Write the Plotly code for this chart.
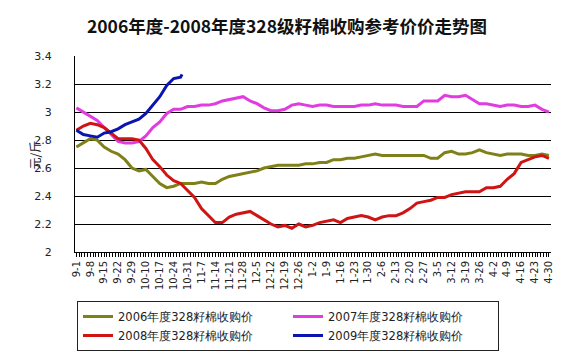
import plotly.graph_objects as go

# Tick labels (every 5th trading day)
tick_labels = ["9-1", "9-8", "9-15", "9-22", "9-29", "10-10", "10-17", "10-24", "10-31",
               "11-7", "11-14", "11-21", "11-28", "12-5", "12-12", "12-19", "12-26",
               "1-2", "1-9", "1-16", "1-23", "1-30", "2-6", "2-13", "2-20", "2-27",
               "3-5", "3-12", "3-19", "3-26", "4-2", "4-9", "4-16", "4-23", "4-30"]

# Sample positions, in units of tick-label steps (half steps)
x_pos = [i / 2 for i in range(69)]

s2006 = [2.75, 2.78, 2.81, 2.80, 2.75, 2.72, 2.70, 2.66, 2.60, 2.58, 2.59, 2.54,
         2.49, 2.46, 2.47, 2.49, 2.49, 2.49, 2.50, 2.49, 2.49, 2.52, 2.54, 2.55,
         2.56, 2.57, 2.58, 2.60, 2.61, 2.62, 2.62, 2.62, 2.62, 2.63, 2.63, 2.64,
         2.64, 2.66, 2.66, 2.67, 2.67, 2.68, 2.69, 2.70, 2.69, 2.69, 2.69, 2.69,
         2.69, 2.69, 2.69, 2.67, 2.67, 2.71, 2.72, 2.70, 2.70, 2.71, 2.73, 2.71,
         2.70, 2.69, 2.70, 2.70, 2.70, 2.69, 2.69, 2.70, 2.69]

s2007 = [3.03, 3.00, 2.97, 2.94, 2.89, 2.84, 2.79, 2.78, 2.78, 2.79, 2.83, 2.89,
         2.93, 2.99, 3.02, 3.02, 3.04, 3.04, 3.05, 3.05, 3.06, 3.08, 3.09, 3.10,
         3.11, 3.08, 3.06, 3.03, 3.01, 3.01, 3.02, 3.05, 3.06, 3.05, 3.04, 3.05,
         3.05, 3.04, 3.04, 3.04, 3.04, 3.05, 3.05, 3.06, 3.05, 3.05, 3.05, 3.04,
         3.04, 3.04, 3.08, 3.08, 3.08, 3.12, 3.11, 3.11, 3.12, 3.09, 3.06, 3.06,
         3.05, 3.04, 3.05, 3.05, 3.04, 3.04, 3.05, 3.02, 3.00]

s2008 = [2.87, 2.90, 2.92, 2.91, 2.89, 2.85, 2.81, 2.81, 2.81, 2.80, 2.74, 2.66,
         2.61, 2.55, 2.51, 2.49, 2.44, 2.39, 2.31, 2.26, 2.21, 2.21, 2.25, 2.27,
         2.28, 2.29, 2.26, 2.23, 2.20, 2.18, 2.19, 2.17, 2.20, 2.18, 2.19, 2.21,
         2.22, 2.23, 2.21, 2.24, 2.25, 2.26, 2.25, 2.23, 2.25, 2.26, 2.26, 2.28,
         2.31, 2.35, 2.36, 2.37, 2.39, 2.39, 2.41, 2.42, 2.43, 2.43, 2.43, 2.46,
         2.46, 2.47, 2.52, 2.56, 2.64, 2.66, 2.68, 2.69, 2.67]

s2009 = [2.87, 2.84, 2.83, 2.82, 2.85, 2.86, 2.88, 2.91, 2.93, 2.95, 2.99, 3.05,
         3.11, 3.19, 3.24, 3.25, 3.27]
x2009 = x_pos[:16] + [7.6]

series = [
    ("2006年度328籽棉收购价", x_pos, s2006, "#808018"),
    ("2007年度328籽棉收购价", x_pos, s2007, "#E03CE0"),
    ("2008年度328籽棉收购价", x_pos, s2008, "#D01414"),
    ("2009年度328籽棉收购价", x2009, s2009, "#0A14B0"),
]

# The page body has an 8px margin, so the figure is drawn 8px smaller.
W, H, OFF = 562, 350, 8
XRANGE = [-0.1, 34.15]

fig = go.Figure()
for name, xs, ys, color in series:
    fig.add_trace(go.Scatter(x=xs, y=ys, name=name, mode="lines",
                             line=dict(color=color, width=3)))

fig.update_layout(
    width=W, height=H,
    margin=dict(l=75 - OFF, r=19, t=56 - OFF, b=106, autoexpand=False),
    paper_bgcolor="white", plot_bgcolor="white",
    font=dict(family="DejaVu Sans", color="#222222"),
    title=dict(text="<b>2006年度-2008年度328级籽棉收购参考价价走势图</b>",
               font=dict(family="Noto Sans CJK SC", size=17.5, color="#111111"),
               x=(287 - OFF) / W, xref="container", xanchor="center",
               y=1 - (27 - OFF) / H, yref="container", yanchor="middle"),
    showlegend=True,
    legend=dict(orientation="h", x=(77 - OFF) / W, y=1 - (301 - OFF) / H,
                xref="container", yref="container",
                xanchor="left", yanchor="top",
                entrywidth=165, entrywidthmode="pixels",
                bordercolor="#222222", borderwidth=1,
                font=dict(family="DejaVu Sans", size=11.5, color="#222222"),
                tracegroupgap=0, itemwidth=30),
    # secondary x axis used only for the dense daily tick marks
    xaxis2=dict(overlaying="x", anchor="y", side="bottom", range=XRANGE,
                tickmode="linear", tick0=0, dtick=0.2, showticklabels=False,
                ticks="outside", ticklen=4, tickcolor="black", tickwidth=1,
                showgrid=False, zeroline=False, showline=False, automargin=False),
)

fig.layout.xaxis.update(
    range=XRANGE, automargin=False,
    tickmode="array", tickvals=list(range(len(tick_labels))), ticktext=tick_labels,
    tickangle=-90, tickfont=dict(size=10, color="#222222"),
    showgrid=False, zeroline=False,
    showline=True, linecolor="black", linewidth=1,
    ticks="outside", ticklen=4, tickcolor="black", tickwidth=1,
)

fig.update_yaxes(
    range=[2, 3.401], tick0=2, dtick=0.2, automargin=False,
    tickfont=dict(size=11, color="#222222"),
    showgrid=True, gridcolor="black", gridwidth=1,
    zeroline=False,
    showline=True, linecolor="black", linewidth=1,
    ticks="", ticklabelstandoff=20,
)

# invisible helper trace so the tick-mark axis is drawn
fig.add_trace(go.Scatter(x=[XRANGE[0]], y=[2], xaxis="x2", yaxis="y",
                         mode="markers", marker=dict(opacity=0),
                         showlegend=False, hoverinfo="skip"))

fig.add_annotation(text="元/斤", xref="paper", yref="paper",
                   x=-(75 - 24) / 476, y=0.495, textangle=-90, showarrow=False,
                   font=dict(family="Noto Sans CJK SC", size=12, color="#222222"))

fig.write_html("out.html")
